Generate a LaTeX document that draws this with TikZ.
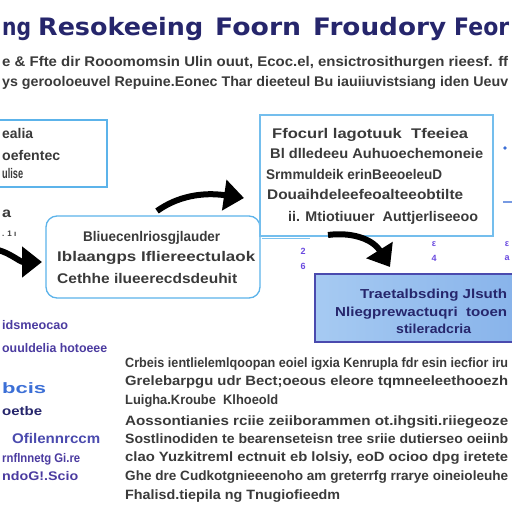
\documentclass[tikz,border=0pt]{standalone}
\usepackage{graphicx}
\usepackage{fontspec}
\setmainfont{Liberation Sans}
\newfontfamily\ttlfont{DejaVu Sans}
\usetikzlibrary{arrows.meta}
\newcommand{\fw}[2]{\resizebox{#1pt}{\height}{#2}}
\definecolor{navy}{HTML}{26266C}
\definecolor{tgray}{HTML}{3A3A3A}
\definecolor{lblue}{HTML}{5CB3EA}
\definecolor{bfillA}{HTML}{A6CAF2}
\definecolor{bfillB}{HTML}{86B2EA}
\definecolor{bdark}{HTML}{4A4AAE}
\definecolor{purp}{HTML}{4B3BA0}
\definecolor{pblue}{HTML}{3C6FD6}
\definecolor{mark}{HTML}{6A4AE0}
\begin{document}
\begin{tikzpicture}[x=1pt,y=-1pt,
  ttl/.style={anchor=base west, inner sep=0pt, font=\ttlfont\bfseries\fontsize{24}{26}\selectfont, text=navy},
  sub/.style={anchor=base west, inner sep=0pt, font=\bfseries\fontsize{14}{15}\selectfont, text=tgray},
  ln/.style={anchor=base west, inner sep=0pt, font=\bfseries\fontsize{13.5}{14}\selectfont, text=tgray},
  bx/.style={anchor=base west, inner sep=0pt, font=\bfseries\fontsize{14}{15}\selectfont, text=tgray},
  pl/.style={anchor=base west, inner sep=0pt, font=\bfseries\fontsize{12.5}{13}\selectfont, text=purp},
  bl/.style={anchor=base west, inner sep=0pt, font=\bfseries\fontsize{13}{14}\selectfont, text=navy},
  mk/.style={anchor=center, inner sep=0pt, font=\bfseries\fontsize{9}{9}\selectfont, text=mark},
  lbox/.style={draw=lblue, line width=1.3pt},
  bigarrow/.style={line width=6pt, -{Triangle[length=20pt,width=30pt]}}
]
\useasboundingbox (0,0) rectangle (512,512);
\clip (0,0) rectangle (512,512);
\fill[white] (0,0) rectangle (512,512);

% title
\node[ttl] (tw1) at (2,35) {\fw{29}{ng}};
\node[ttl] (tw2) at (38,35) {\fw{165}{Resokeeing}};
\node[ttl] (tw3) at (215,35) {\fw{86}{Foorn}};
\node[ttl] (tw4) at (313,35) {\fw{133}{Froudory}};
\node[ttl] (tw5) at (454,35) {\fw{55}{Feor}};

% subtitle
\node[sub] (s1) at (2,66) {\fw{506}{e \& Ffte dir Rooomomsin Ulin ouut, Ecoc.el, ensictrosithurgen rieesf. ff}};
\node[sub] (s2) at (2,86) {\fw{506}{ys gerooloeuvel Repuine.Eonec Thar dieeteul Bu iauiiuvistsiang iden Ueuv}};

% box 1
\draw[lbox] (-5,120) rectangle (107,187);
\node[bx] (b1a) at (2,138) {\fw{31}{ealia}};
\node[bx] (b1b) at (2,160) {\fw{58}{oefentec}};
\node[bx] (b1c) at (2,178) {\fw{21}{ulise}};

\node[bx] (la) at (2,217) {\fw{9}{a}};
\node[bx, font=\bfseries\fontsize{8}{8}\selectfont] (lb) at (2,236) {. 1 ı};

% box 2
\draw[lbox, rounded corners=11pt, fill=white] (46,216) rectangle (260,298);
\node[bx] (b2a) at (83,241) {\fw{137}{Bliuecenlriosgjlauder}};
\node[bx] (b2b) at (57,261) {\fw{198}{Iblaangps Ifliereectulaok}};
\node[bx] (b2c) at (57,283) {\fw{180}{Cethhe ilueerecdsdeuhit}};

% box 3
\draw[lbox, draw=lblue!85] (260,115) rectangle (493,236);
\draw[lblue!80, line width=1pt] (262,238.5) -- (310,238.5);
\node[bx] (b3a) at (272,138) {\fw{196}{Ffocurl lagotuuk\ \ Tfeeiea}};
\node[bx] (b3b) at (270,158) {\fw{213}{Bl dlledeeu Auhuoechemoneie}};
\node[bx] (b3c) at (266,179) {\fw{176}{Srmmuldeik erinBeeoeleuD}};
\node[bx] (b3d) at (267,199) {\fw{196}{Douaihdeleefeoalteeobtilte}};
\node[bx] (b3e) at (288,221) {\fw{190}{ii. Mtiotiuuer\ \ Auttjerliseeoo}};

% small marks
\node[mk] (m1) at (303,251) {2};
\node[mk] (m2) at (303,266) {6};
\node[mk] (m3) at (434,244) {ε};
\node[mk] (m4) at (434,258) {4};
\node[mk] (m5) at (507,244) {ε};
\node[mk] (m6) at (507,258) {a};
\fill[pblue] (505,148) circle (1.8pt);
\draw[pblue!70, line width=1.5pt] (503,202) -- (512,202);

% box 4
\draw[draw=bdark, line width=1.6pt, left color=bfillA, right color=bfillB] (315,274) rectangle (530,342);
\node[bl] (b4a) at (360,298) {\fw{147}{Traetalbsding Jlsuth}};
\node[bl] (b4b) at (335,316) {\fw{172}{Nliegprewactuqri\ \ tooen}};
\node[bl] (b4c) at (396,333) {\fw{75}{stileradcria}};

% arrows
\coordinate (aAs) at (-2,250);
\coordinate (aAe) at (42,262);
\draw[bigarrow] (aAs) .. controls (10,253) and (20,262) .. (aAe);
\coordinate (aBs) at (157,211);
\coordinate (aBe) at (244,198);
\draw[bigarrow] (aBs) .. controls (178,196) and (203,192) .. (aBe);
\coordinate (aCs) at (328,235);
\coordinate (aCe) at (390,267);
\draw[bigarrow] (aCs) .. controls (350,232) and (372,238) .. (aCe);

% left purple texts
\node[pl] (p1) at (2,329) {\fw{66}{idsmeocao}};
\node[pl] (p2) at (2,352) {\fw{105}{ouuldelia hotoeee}};
\node[pl, text=pblue, font=\bfseries\fontsize{15}{16}\selectfont] (p3) at (2,393) {\fw{44}{bcis}};
\node[pl, text=navy] (p4) at (2,415) {\fw{40}{oetbe}};
\node[pl, text=bdark, font=\bfseries\fontsize{14}{15}\selectfont] (p5) at (12,443) {\fw{88}{Ofilennrccm}};
\node[pl] (p6) at (2,462) {\fw{78}{rnflnnetg Gi.re}};
\node[pl] (p7) at (2,480) {\fw{76}{ndoG!.Scio}};

% bottom paragraphs
\node[ln] (q1) at (125,367) {\fw{383}{Crbeis ientlielemlqoopan eoiel igxia Kenrupla fdr esin iecfior iru}};
\node[ln] (q2) at (125,385) {\fw{383}{Grelebarpgu udr Bect;oeous eleore tqmneeleethooezh}};
\node[ln] (q3) at (125,404) {\fw{153}{Luigha.Kroube\ \ Klhoeold}};
\node[ln] (q4) at (125,425) {\fw{383}{Aossontianies rciie zeiiborammen ot.ihgsiti.riiegeoze}};
\node[ln] (q5) at (125,443) {\fw{383}{Sostlinodiden te bearenseteisn tree sriie dutierseo oeiinb}};
\node[ln] (q6) at (125,461) {\fw{383}{clao Yuzkitreml ectnuit eb lolsiy, eoD ocioo dpg iretete}};
\node[ln] (q7) at (125,480) {\fw{383}{Ghe dre Cudkotgnieeenoho am greterrfg rrarye oineioleuhe}};
\node[ln] (q8) at (125,499) {\fw{215}{Fhalisd.tiepila ng Tnugiofieedm}};
\end{tikzpicture}
\end{document}
